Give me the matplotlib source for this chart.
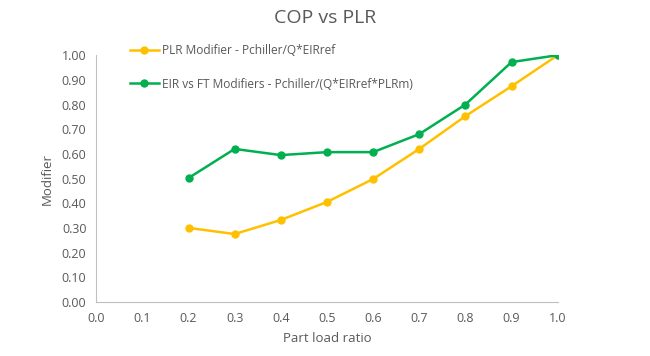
import matplotlib
matplotlib.use("Agg")
import matplotlib.pyplot as plt

plr = [0.2, 0.3, 0.4, 0.5, 0.6, 0.7, 0.8, 0.9, 1.0]
plr_modifier = [0.30, 0.275, 0.332, 0.405, 0.498, 0.62, 0.753, 0.874, 1.0]
eir_modifier = [0.502, 0.62, 0.595, 0.607, 0.607, 0.68, 0.80, 0.972, 1.0]
xticks = [0.0, 0.1, 0.2, 0.3, 0.4, 0.5, 0.6, 0.7, 0.8, 0.9, 1.0]
yticks = [0.0, 0.1, 0.2, 0.3, 0.4, 0.5, 0.6, 0.7, 0.8, 0.9, 1.0]

plt.rcParams['font.family'] = ['Open Sans', 'DejaVu Sans']
grey = '#595959'

fig = plt.figure(figsize=(6.5, 3.56), dpi=100)
ax = fig.add_axes([0.148, 0.152, 0.710, 0.693])

l1, = ax.plot(plr, plr_modifier, '-o', color='#FFC000', lw=1.8, markersize=5,
              label='PLR Modifier - Pchiller/Q*EIRref')
l2, = ax.plot(plr, eir_modifier, '-o', color='#00B050', lw=1.8, markersize=5,
              label='EIR vs FT Modifiers - Pchiller/(Q*EIRref*PLRm)')

ax.set_xlim(0, 1)
ax.set_ylim(0, 1)
ax.set_xticks(xticks)
ax.set_xticklabels(['%.1f' % v for v in xticks])
ax.set_yticks(yticks)
ax.set_yticklabels(['%.2f' % v for v in yticks])
ax.tick_params(length=0, colors=grey, labelsize=9, pad=7)
for s in ['top', 'right']:
    ax.spines[s].set_visible(False)
for s in ['left', 'bottom']:
    ax.spines[s].set_color('#BFBFBF')
ax.set_xlabel('Part load ratio', color=grey, fontsize=9.5, labelpad=5)
ax.set_ylabel('Modifier', color=grey, fontsize=9.5, labelpad=6)

fig.text(0.5, 0.95, 'COP vs PLR', ha='center', va='center', color=grey, fontsize=14)

leg = ax.legend(loc='upper left', bbox_to_anchor=(0.05, 1.09), frameon=False,
                fontsize=8.6, labelspacing=1.75, handlelength=2.4, handletextpad=0.3)
for t in leg.get_texts():
    t.set_color(grey)

fig.savefig('out.png', dpi=100)
